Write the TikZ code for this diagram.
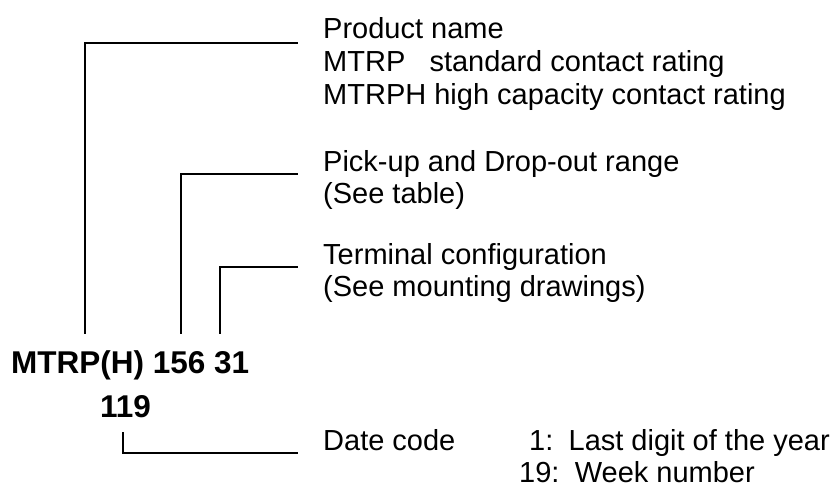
\documentclass[tikz,border=0pt]{standalone}
\usepackage{fontspec}
\setmainfont{Liberation Sans}
\begin{document}
\begin{tikzpicture}[x=1bp,y=-1bp,
  lab/.style={anchor=base west, inner sep=0pt, font=\fontsize{29bp}{31bp}\selectfont},
  labr/.style={anchor=base east, inner sep=0pt, font=\fontsize{29bp}{31bp}\selectfont},
  codetxt/.style={anchor=base west, inner sep=0pt, font=\fontsize{31.5bp}{33bp}\selectfont\bfseries},
  lead/.style={line width=1.3bp, line cap=rect}]
\useasboundingbox (0,0) rectangle (837,489);
% code
\node[codetxt] (code) at (11,373) {MTRP(H) 156 31};
\node[codetxt] (date) at (100,417) {119};
% labels
\node[lab] (prodA) at (323,39) {Product name};
\node[lab] (prodB) at (323,72) {MTRP\ \ \ standard contact rating};
\node[lab] (prodC) at (323,105) {MTRPH high capacity contact rating};
\node[lab] (pickA) at (323,172) {Pick-up and Drop-out range};
\node[lab] (pickB) at (323,204) {(See table)};
\node[lab] (termA) at (323,265) {Terminal configuration};
\node[lab] (termB) at (323,297) {(See mounting drawings)};
\node[lab] (dateA) at (323,450) {Date code};
\node[lab] (yrnum) at (529,450) {1:};
\node[labr] (yrtxt) at (830,450) {Last digit of the year};
\node[lab] (wknum) at (519,482) {19:};
\node[labr] (wktxt) at (755,482) {Week number};
% leader anchors
\coordinate (s1) at (85,333);  \coordinate (e1) at (297,43);
\coordinate (s2) at (181,333); \coordinate (e2) at (297,174);
\coordinate (s3) at (220,333); \coordinate (e3) at (297,267);
\coordinate (s4) at (123,433); \coordinate (e4) at (297,453);
\draw[lead] (s1) |- (e1);
\draw[lead] (s2) |- (e2);
\draw[lead] (s3) |- (e3);
\draw[lead] (s4) |- (e4);
\end{tikzpicture}
\end{document}
